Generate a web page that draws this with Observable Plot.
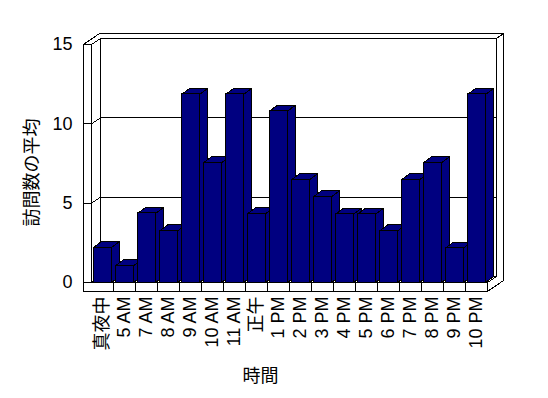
<!DOCTYPE html>
<html>
<head>
<meta charset="utf-8">
<script src="https://cdn.jsdelivr.net/npm/d3@7"></script>
<script src="https://cdn.jsdelivr.net/npm/@observablehq/plot@0.6"></script>
<style>
  html, body { margin: 0; padding: 0; background: #ffffff; }
  #chart svg { display: block; shape-rendering: crispEdges; }
</style>
</head>
<body>
<div id="chart"></div>
<script>
// ---- data ----
const categories = ["真夜中", "5 AM", "7 AM", "8 AM", "9 AM", "10 AM", "11 AM", "正午", "1 PM", "2 PM", "3 PM", "4 PM", "5 PM", "6 PM", "7 PM", "8 PM", "9 PM", "10 PM"];
const visits = [2.2, 1.05, 4.35, 3.25, 11.85, 7.55, 11.85, 4.33, 10.8, 6.47, 5.4, 4.3, 4.3, 3.25, 6.47, 7.55, 2.17, 11.85];
const yTicks = [0, 5, 10, 15];
const gridValues = [5, 10];
const xTitle = "時間";
const yTitle = "訪問数の平均";

// ---- layout ----
const W = 548, H = 398, ML = 91, MR = 61, MT = 44, MB = 116;
const N = categories.length, YMAX = 15;
const pxX = (W - ML - MR) / N;
const pxY = (H - MT - MB) / YMAX;
const ux = p => p / pxX, uy = p => p / pxY;
const BAR_IN = ux(2), BAR_DX = ux(8), BAR_DY = uy(6);
const D1X = ux(9), D1Y = uy(6), D2X = ux(16), D2Y = uy(11);
const WALL = ux(8), FLOOR = uy(9);
const NAVY = "#000080";
const FS = 18;

// polygons of the 3D frame
function poly(id, pts) { return pts.map(([x, y]) => ({id, x, y})); }
const silhouette = poly("sil", [[-WALL, -FLOOR], [-WALL, YMAX], [-WALL + D2X, YMAX + D2Y], [N + D2X, YMAX + D2Y], [N + D2X, -FLOOR + D2Y], [N, -FLOOR]]);
const backFace = poly("back", [[D1X, D1Y], [D1X, YMAX + D1Y], [N + D1X, YMAX + D1Y], [N + D1X, D1Y]]);
const leftInner = poly("left", [[0, 0], [0, YMAX], [D1X, YMAX + D1Y], [D1X, D1Y]]);
const floorTop = poly("floor", [[0, 0], [N, 0], [N + D1X, D1Y], [D1X, D1Y]]);
const frontL = poly("front", [[-WALL, -FLOOR], [-WALL, YMAX], [0, YMAX], [0, 0], [N, 0], [N, -FLOOR]]);

const frameLines = [
  {x1: N + D1X, y1: YMAX + D1Y, x2: N + D2X, y2: YMAX + D2Y},
  {x1: -WALL, y1: 0, x2: 0, y2: 0}
];
gridValues.forEach(g => {
  frameLines.push({x1: D1X, y1: g + D1Y, x2: N + D1X, y2: g + D1Y});
  frameLines.push({x1: 0, y1: g, x2: D1X, y2: g + D1Y});
  frameLines.push({x1: -WALL, y1: g, x2: 0, y2: g});
});

// bar faces
const bars = visits.map((v, i) => ({i, v, x1: i + BAR_IN, x2: i + 1 - BAR_IN}));
const sides = bars.flatMap(b => poly("s" + b.i, [[b.x2, 0], [b.x2 + BAR_DX, BAR_DY], [b.x2 + BAR_DX, b.v + BAR_DY], [b.x2, b.v]]));
const tops = bars.flatMap(b => poly("t" + b.i, [[b.x1, b.v], [b.x2, b.v], [b.x2 + BAR_DX, b.v + BAR_DY], [b.x1 + BAR_DX, b.v + BAR_DY]]));

const polyOpts = (fill) => ({x: "x", y: "y", z: "id", curve: "linear-closed", fill, stroke: "black", strokeWidth: 1, strokeLinejoin: "miter"});

const chart = Plot.plot({
  width: W, height: H,
  marginLeft: ML, marginRight: MR, marginTop: MT, marginBottom: MB,
  style: {fontFamily: "'Liberation Sans', 'Noto Sans CJK JP', sans-serif", fontSize: FS + "px", background: "#ffffff", color: "black"},
  x: {type: "linear", domain: [0, N]},
  y: {type: "linear", domain: [0, YMAX]},
  marks: [
    Plot.line(silhouette, polyOpts("white")),
    Plot.line(backFace, polyOpts("white")),
    Plot.line(leftInner, polyOpts("white")),
    Plot.line(floorTop, polyOpts("white")),
    Plot.line(frontL, polyOpts("white")),
    Plot.link(frameLines, {x1: "x1", y1: "y1", x2: "x2", y2: "y2", stroke: "black", strokeWidth: 1}),
    Plot.ruleX(d3.range(1, N), {y1: -FLOOR, y2: 0, stroke: "black", strokeWidth: 1}),
    Plot.line(sides, polyOpts(NAVY)),
    Plot.line(tops, polyOpts(NAVY)),
    Plot.rect(bars, {x1: "x1", x2: "x2", y1: 0, y2: "v", fill: NAVY, stroke: "black", strokeWidth: 1}),
    Plot.axisY({ticks: yTicks, tickSize: 0, tickPadding: 19, fontSize: FS, label: null}),
    Plot.axisX({ticks: categories.map((_, i) => i + 0.5), tickFormat: d => categories[Math.floor(d)], tickRotate: -90, tickSize: 0, tickPadding: 14, fontSize: FS, label: null}),
    Plot.text([yTitle], {text: d => d, frameAnchor: "left", textAnchor: "middle", lineAnchor: "middle", rotate: -90, dx: -59, dy: 9, fontSize: FS}),
    Plot.text([xTitle], {text: d => d, frameAnchor: "bottom", textAnchor: "middle", lineAnchor: "middle", dx: -29, dy: 94, fontSize: FS})
  ]
});
document.getElementById("chart").appendChild(chart);
</script>
</body>
</html>
